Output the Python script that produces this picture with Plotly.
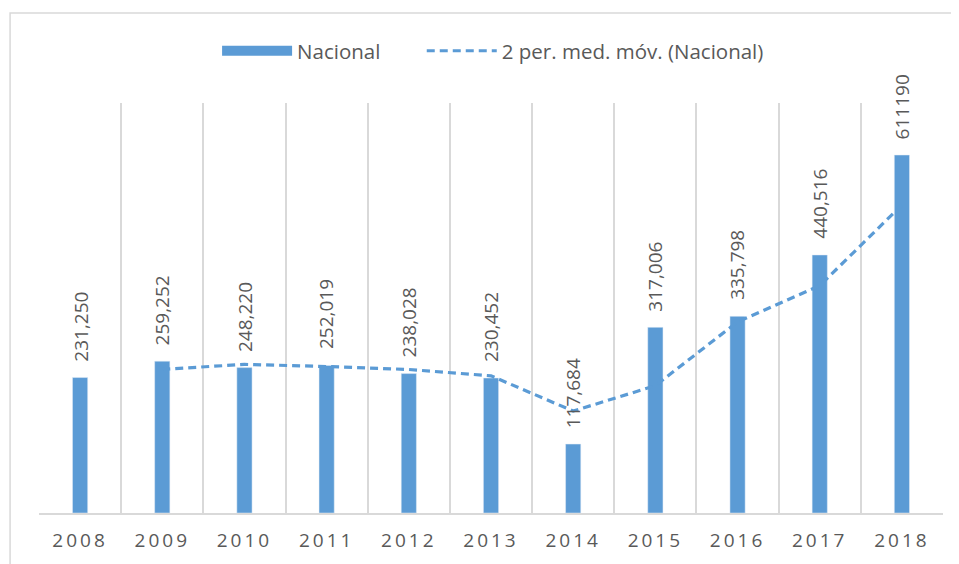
import plotly.graph_objects as go

years = ["2008", "2009", "2010", "2011", "2012", "2013", "2014", "2015", "2016", "2017", "2018"]
nacional = [231250, 259252, 248220, 252019, 238028, 230452, 117684, 317006, 335798, 440516, 611190]
bar_labels = ["231,250", "259,252", "248,220", "252,019", "238,028", "230,452",
              "117,684", "317,006", "335,798", "440,516", "611190"]
ma_years = ["2009", "2010", "2011", "2012", "2013", "2014", "2015", "2016", "2017", "2018"]
ma_values = [245251, 253736, 250119.5, 245023.5, 234240, 174068, 217345, 326402, 388157, 525853]

BLUE = "#5B9BD5"
GRID = "#D9D9D9"
TEXT = "#595959"
FONT = "Open Sans"

fig = go.Figure()
fig.add_trace(go.Bar(x=years, y=nacional, name="Nacional", marker_color=BLUE, width=0.185,
                     legendgroup="nac", showlegend=False))
# legend-only entry drawn as a wide swatch (Excel-style)
fig.add_trace(go.Scatter(x=[None], y=[None], mode="lines", name="Nacional", legendgroup="nac",
                         line=dict(color=BLUE, width=15), legend="legend", hoverinfo="skip"))
fig.add_trace(go.Scatter(x=ma_years, y=ma_values, mode="lines", name="2 per. med. móv. (Nacional)",
                         line=dict(color=BLUE, width=3.2, dash="8px,5px"), legend="legend2"))

for i, (v, t) in enumerate(zip(nacional, bar_labels)):
    fig.add_annotation(x=i, y=v, text=t, textangle=-90, showarrow=False,
                       yanchor="bottom", yshift=14,
                       font=dict(family=FONT, size=19, color=TEXT))

fig.add_shape(type="rect", xref="paper", yref="paper", x0=-0.032, x1=1.06, y0=-0.16, y1=1.2195,
              line=dict(color=GRID, width=1.5), fillcolor="rgba(0,0,0,0)", layer="below")

tick_text = ["<span style='letter-spacing:3px'>%s</span>" % y for y in years]

legend_common = dict(orientation="h", y=1.127, yanchor="middle", xanchor="left",
                     font=dict(family=FONT, size=20.5, color=TEXT), itemwidth=70,
                     bgcolor="rgba(0,0,0,0)")

fig.update_layout(
    width=951, height=556,
    margin=dict(l=31, r=16, t=95, b=51),
    paper_bgcolor="white", plot_bgcolor="white",
    font=dict(family=FONT, color=TEXT),
    showlegend=True,
    legend=dict(x=0.197, **legend_common),
    legend2=dict(x=0.4234, **legend_common),
    xaxis=dict(type="category", categoryorder="array", categoryarray=years, range=[-0.5, 10.5],
               tickson="boundaries", showgrid=True, gridcolor=GRID, gridwidth=1.5,
               showline=True, linecolor=GRID, linewidth=2, ticks="", ticklen=0,
               tickmode="array", tickvals=years, ticktext=tick_text, ticklabelstandoff=9,
               tickangle=0, tickfont=dict(family=FONT, size=19, color=TEXT)),
    yaxis=dict(range=[0, 700000], showgrid=False, showticklabels=False, zeroline=False,
               showline=False, ticks=""),
)

fig.write_html("out.html")
